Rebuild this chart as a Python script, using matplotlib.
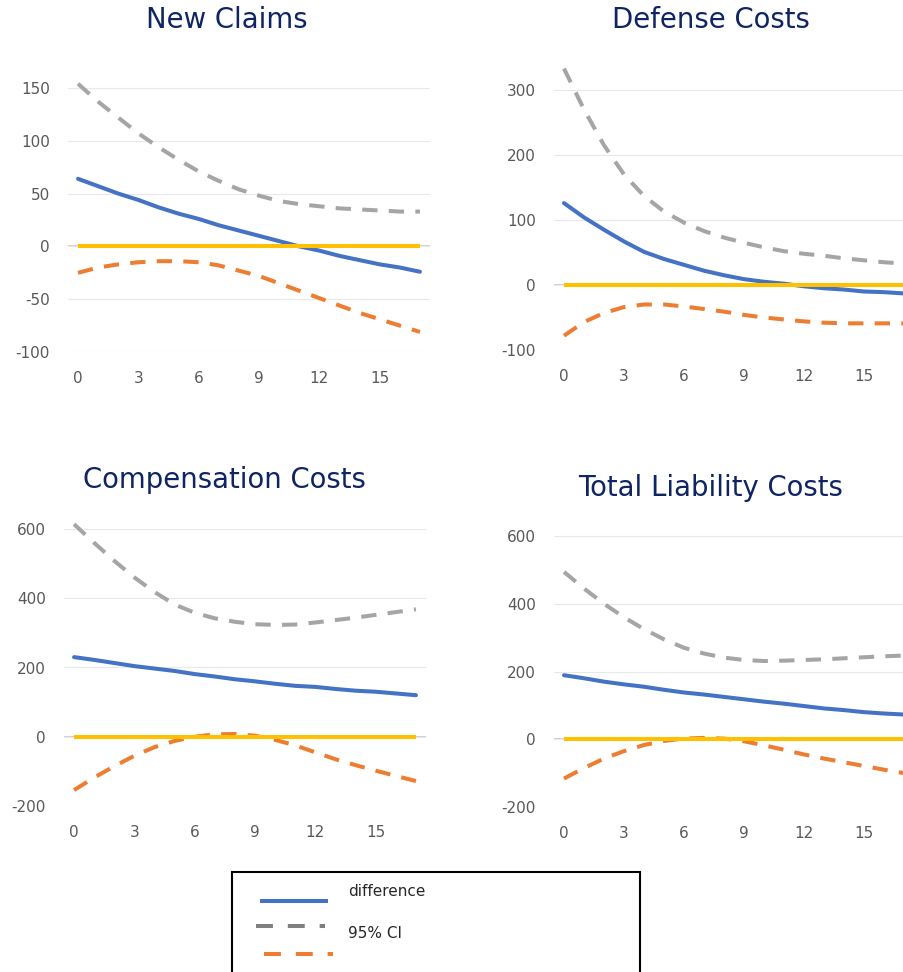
import matplotlib
matplotlib.use("Agg")
import matplotlib.pyplot as plt
from matplotlib.lines import Line2D
from matplotlib.patches import Rectangle

plt.rcParams['font.family'] = ['DejaVu Sans']

# ---------------- data ----------------
periods = list(range(18))
xticks = [0, 3, 6, 9, 12, 15]

titles = ["New Claims", "Defense Costs", "Compensation Costs", "Total Liability Costs"]

nc_diff = [64, 57, 50, 44, 37, 31, 26, 20, 15, 10, 5, 0, -4, -9, -13, -17, -20, -24]
nc_upper = [154, 137, 122, 107, 94, 82, 71, 62, 54, 48, 43, 40, 38, 36, 35, 34, 33, 33]
nc_lower = [-25, -20, -17, -15, -14, -14, -15, -18, -23, -28, -35, -42, -49, -56, -63, -69, -75, -81]

dc_diff = [126, 104, 85, 67, 51, 40, 31, 22, 15, 9, 5, 2, -2, -5, -7, -10, -11, -13]
dc_upper = [333, 270, 215, 170, 137, 113, 96, 83, 73, 65, 58, 52, 48, 45, 41, 38, 35, 33]
dc_lower = [-78, -57, -43, -34, -30, -30, -33, -37, -41, -46, -50, -53, -56, -58, -59, -59, -59, -59]

cc_diff = [230, 222, 213, 204, 197, 190, 181, 174, 166, 160, 153, 147, 144, 138, 133, 130, 125, 120]
cc_upper = [614, 560, 508, 460, 418, 382, 358, 342, 332, 325, 323, 324, 330, 337, 344, 352, 360, 368]
cc_lower = [-154, -118, -85, -55, -30, -12, 0, 7, 8, 3, -9, -25, -45, -65, -82, -98, -113, -128]

tl_diff = [189, 180, 170, 162, 155, 146, 138, 132, 125, 118, 111, 105, 98, 91, 86, 80, 76, 73]
tl_upper = [494, 445, 400, 360, 325, 295, 270, 253, 241, 234, 231, 232, 234, 236, 239, 242, 245, 247]
tl_lower = [-116, -85, -57, -35, -17, -5, 2, 4, 2, -6, -18, -31, -45, -57, -68, -79, -90, -100]

zero_line = [0] * 18

yticks_list = [
    [-100, -50, 0, 50, 100, 150],
    [-100, 0, 100, 200, 300],
    [-200, 0, 200, 400, 600],
    [-200, 0, 200, 400, 600],
]

legend_labels = ["difference", "95% CI"]

# ---------------- style ----------------
W, H = 904, 972
BLUE = "#4472C4"
GRAY = "#A5A5A5"
ORANGE = "#ED7D31"
YELLOW = "#FFC000"
NAVY = "#0E2463"
TICKC = "#595959"
LW = 2.9

fig = plt.figure(figsize=(W / 100, H / 100), dpi=100)
fig.patch.set_facecolor("white")


def make_ax(x0px, x1px, ya_val, ya_px, yb_val, yb_px, ylim):
    scale = (yb_px - ya_px) / (ya_val - yb_val)  # px per unit
    top_px = ya_px - (ylim[1] - ya_val) * scale
    bot_px = ya_px + (ya_val - ylim[0]) * scale
    ax = fig.add_axes([x0px / W, 1 - bot_px / H, (x1px - x0px) / W, (bot_px - top_px) / H])
    ax.set_xlim(-0.5, 17.5)
    ax.set_ylim(*ylim)
    return ax


panels = [
    dict(box=(68, 430, 150, 88, -100, 352), ylim=(-100, 162), data=(nc_diff, nc_upper, nc_lower),
         title_xy=(227, 28)),
    dict(box=(554, 914, 300, 90, -100, 350), ylim=(-100, 345), data=(dc_diff, dc_upper, dc_lower),
         title_xy=(711, 28)),
    dict(box=(64, 426, 600, 529, -200, 806), ylim=(-200, 640), data=(cc_diff, cc_upper, cc_lower),
         title_xy=(224, 488)),
    dict(box=(554, 914, 600, 536, -200, 807), ylim=(-200, 640), data=(tl_diff, tl_upper, tl_lower),
         title_xy=(711, 496)),
]

for i, p in enumerate(panels):
    ax = make_ax(*p["box"], p["ylim"])
    diff, upper, lower = p["data"]
    ax.set_yticks(yticks_list[i])
    ax.set_xticks(xticks)
    ax.set_xticklabels([str(t) for t in xticks])
    ax.set_yticklabels([str(t) for t in yticks_list[i]])
    ax.grid(axis="y", color="#E8E8E8", lw=0.8, zorder=0)
    ax.axhline(0, color="#C8C8C8", lw=1.2, zorder=1)
    for s in ax.spines.values():
        s.set_visible(False)
    ax.tick_params(axis="both", length=0, labelsize=11, colors=TICKC)
    ax.tick_params(axis="y", pad=13)
    ax.tick_params(axis="x", pad=14)
    ax.plot(periods, upper, color=GRAY, lw=LW, dashes=(3.8, 2.8), zorder=3)
    ax.plot(periods, lower, color=ORANGE, lw=LW, dashes=(3.8, 2.8), zorder=3)
    ax.plot(periods, diff, color=BLUE, lw=LW, solid_capstyle="round", zorder=4)
    ax.plot(periods, zero_line, color=YELLOW, lw=LW, solid_capstyle="butt", zorder=5)
    ax.set_facecolor("none")
    tx, ty = p["title_xy"]
    fig.text(tx / W, 1 - ty / H, titles[i], ha="center", va="baseline", fontsize=19.8, color=NAVY)

# ---------------- legend ----------------
fig.add_artist(Rectangle((232 / W, 1 - 985 / H), (640 - 232) / W, (985 - 872) / H,
                         transform=fig.transFigure, facecolor="white", edgecolor="black", lw=1.5))
fig.add_artist(Line2D([260 / W, 328 / W], [1 - 901 / H, 1 - 901 / H], transform=fig.transFigure,
                      color=BLUE, lw=LW, solid_capstyle="butt"))
fig.add_artist(Line2D([256 / W, 325 / W], [1 - 926 / H, 1 - 926 / H], transform=fig.transFigure,
                      color="#7F7F7F", lw=LW, dashes=(4.2, 3.7)))
fig.add_artist(Line2D([264 / W, 333 / W], [1 - 954 / H, 1 - 954 / H], transform=fig.transFigure,
                      color=ORANGE, lw=LW, dashes=(4.2, 3.7)))
fig.text(348 / W, 1 - 891 / H, legend_labels[0], ha="left", va="center", fontsize=11, color="#262626")
fig.text(348 / W, 1 - 933 / H, legend_labels[1], ha="left", va="center", fontsize=11, color="#262626")

fig.savefig("out.png", dpi=100, facecolor="white")
